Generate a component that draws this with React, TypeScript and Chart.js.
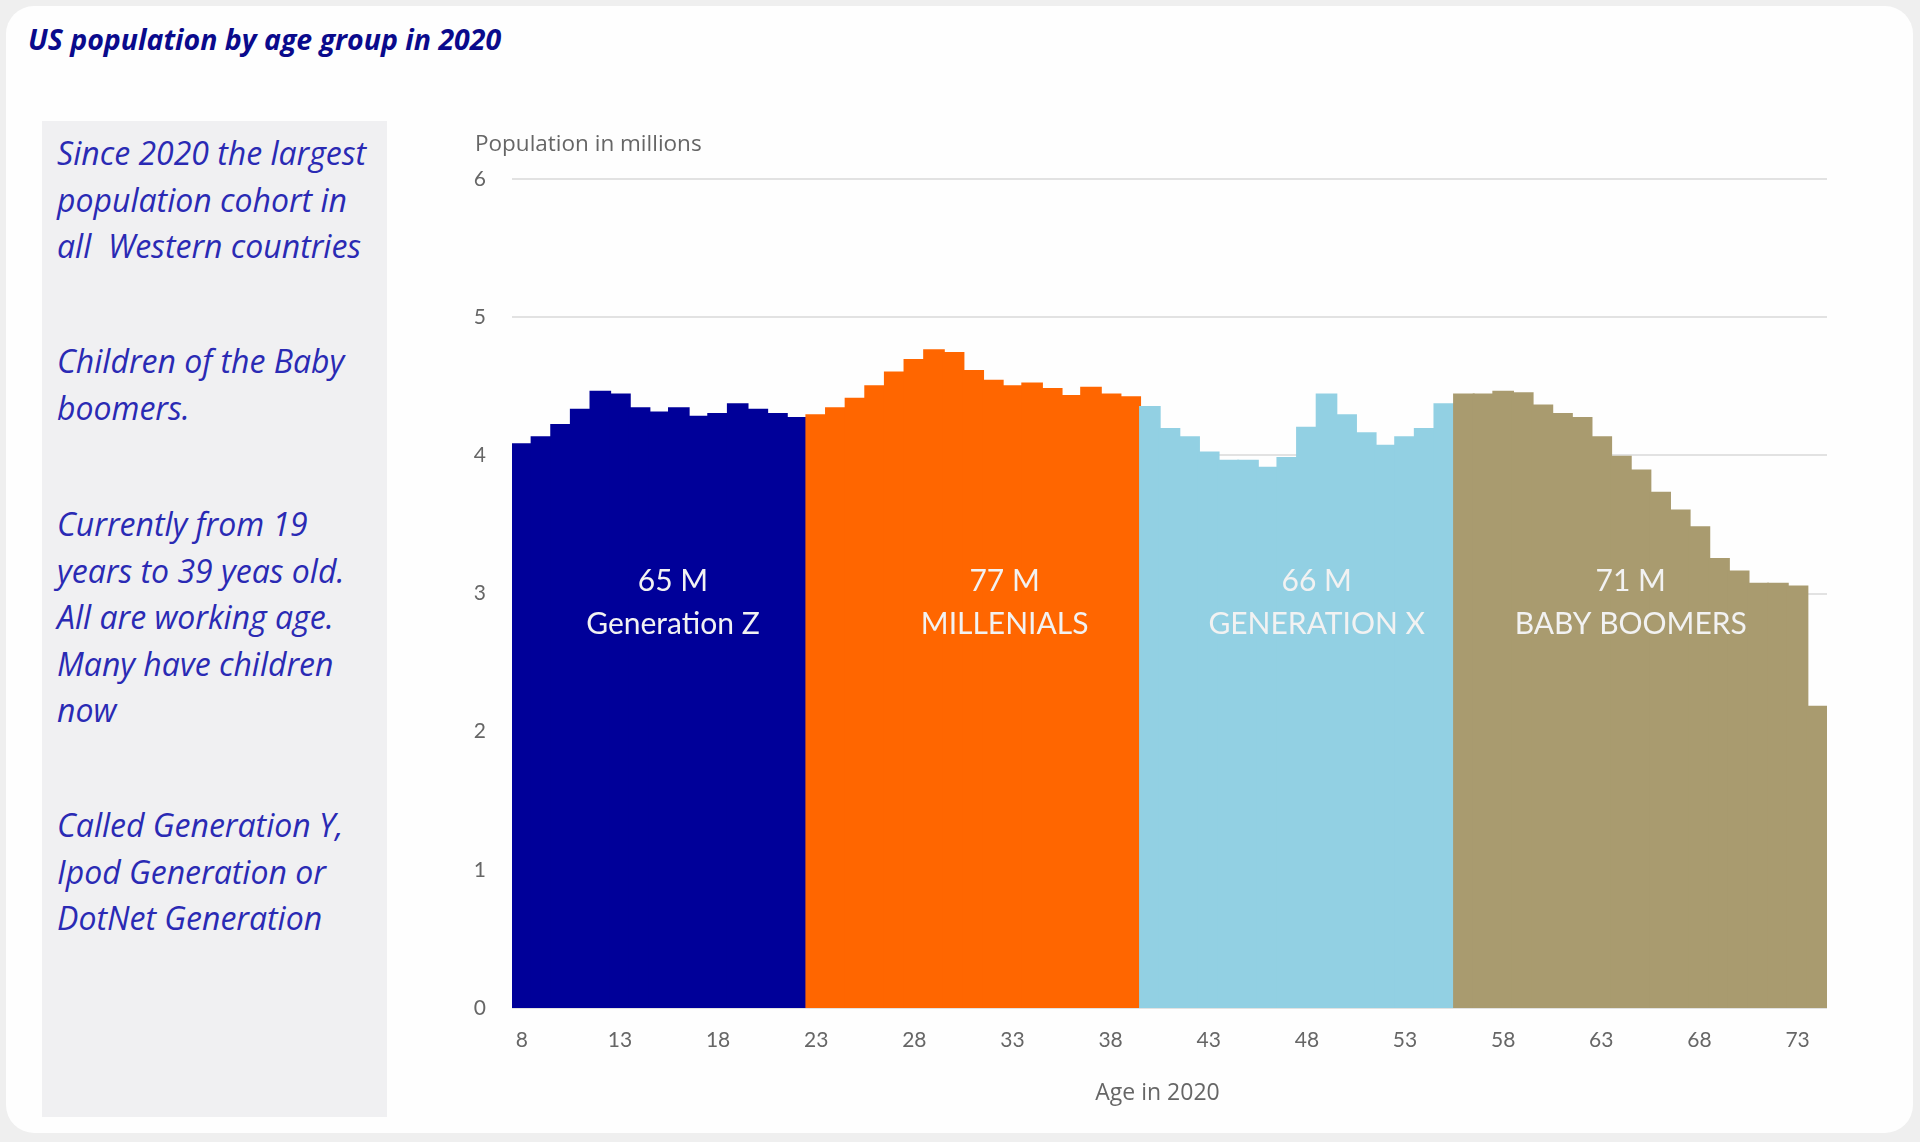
import React, { useEffect, useRef } from "react";
import { Chart, registerables } from "chart.js";
Chart.register(...registerables);

const ages = [8, 9, 10, 11, 12, 13, 14, 15, 16, 17, 18, 19, 20, 21, 22, 23, 24, 25, 26, 27, 28, 29, 30, 31, 32, 33, 34, 35, 36, 37, 38, 39, 40, 41, 42, 43, 44, 45, 46, 47, 48, 49, 50, 51, 52, 53, 54, 55, 56, 57, 58, 59, 60, 61, 62, 63, 64, 65, 66, 67, 68, 69, 70, 71, 72, 73, 74];

const genZValues = [4.08, 4.13, 4.22, 4.33, 4.46, 4.44, 4.34, 4.31, 4.34, 4.28, 4.3, 4.37, 4.33, 4.3, 4.27];
const millennialValues = [4.29, 4.34, 4.41, 4.5, 4.6, 4.69, 4.76, 4.74, 4.61, 4.54, 4.5, 4.52, 4.48, 4.43, 4.49, 4.44, 4.42];
const genXValues = [4.35, 4.19, 4.13, 4.02, 3.96, 3.96, 3.91, 3.98, 4.2, 4.44, 4.29, 4.16, 4.07, 4.13, 4.19, 4.37];
const boomerValues = [4.44, 4.44, 4.46, 4.45, 4.36, 4.3, 4.27, 4.13, 3.99, 3.89, 3.73, 3.6, 3.48, 3.25, 3.16, 3.07, 3.07, 3.05, 2.18];

const groupNames = ["Generation Z", "MILLENIALS", "GENERATION X", "BABY BOOMERS"];
const groupTotals = ["65 M", "77 M", "66 M", "71 M"];
const groupColors = ["#000099", "#ff6600", "#92d0e3", "#a99b6f"];
const groupLabelAges = [15.7, 32.6, 48.5, 64.5];
const labelLineValues = [3.09, 2.78];

const xTickLabels = [8, 13, 18, 23, 28, 33, 38, 43, 48, 53, 58, 63, 68, 73];
const yTickValues = [0, 1, 2, 3, 4, 5, 6];

const sideParagraphs = [
  ["Since 2020 the largest", "population cohort in", "all\u00a0 Western countries"],
  ["Children of the Baby", "boomers."],
  ["Currently from 19", "years to 39 yeas old.", "All are working age.", "Many have children", "now"],
  ["Called Generation Y,", "Ipod Generation or", "DotNet Generation"],
];
const sideParagraphTops = [130, 338, 501, 802];

export default function App() {
  const canvasRef = useRef<HTMLCanvasElement | null>(null);

  useEffect(() => {
    if (!canvasRef.current) return;
    const groups = [genZValues, millennialValues, genXValues, boomerValues];
    const data: number[] = [];
    const colors: string[] = [];
    groups.forEach((g, gi) => {
      g.forEach((v) => {
        data.push(v);
        colors.push(groupColors[gi]);
      });
    });

    const labelPlugin = {
      id: "genLabels",
      afterDatasetsDraw(chart: any) {
        const { ctx, scales, chartArea } = chart;
        const xs = scales.x;
        const ys = scales.y;
        ctx.save();
        ctx.fillStyle = "#f2f2f2";
        ctx.textAlign = "center";
        ctx.textBaseline = "middle";
        ctx.font = "30px Lato";
        groupNames.forEach((name, i) => {
          const idx = groupLabelAges[i] - ages[0];
          const x = xs.getPixelForValue(idx);
          ctx.fillText(groupTotals[i], x, ys.getPixelForValue(labelLineValues[0]));
          ctx.fillText(name, x, ys.getPixelForValue(labelLineValues[1]));
        });
        ctx.fillStyle = "#666666";
        ctx.font = "22.5px 'Open Sans'";
        ctx.textAlign = "left";
        ctx.fillText("Population in millions", chartArea.left - 37, chartArea.top - 34);
        ctx.textAlign = "center";
        ctx.font = "23px 'Open Sans'";
        ctx.fillText("Age in 2020", (chartArea.left + chartArea.right) / 2 - 12, chartArea.bottom + 85);
        ctx.restore();
      },
    };

    const chart = new Chart(canvasRef.current, {
      type: "bar",
      data: {
        labels: ages.map(String),
        datasets: [
          {
            data,
            backgroundColor: colors,
            borderWidth: 0,
            inflateAmount: 1,
            categoryPercentage: 1,
            barPercentage: 1,
          },
        ],
      },
      options: {
        animation: false,
        responsive: true,
        maintainAspectRatio: false,
        layout: { padding: { top: 59, right: 33, left: 0, bottom: 0 } },
        plugins: { legend: { display: false }, tooltip: { enabled: false }, title: { display: false } },
        scales: {
          x: {
            grid: { display: false, drawTicks: false },
            border: { display: false },
            ticks: {
              autoSkip: false,
              maxRotation: 0,
              minRotation: 0,
              padding: 20,
              color: "#666666",
              font: { family: "Lato", size: 21 },
              callback: (_v: any, i: number) => (xTickLabels.includes(ages[i]) ? String(ages[i]) : ""),
            },
            afterFit: (scale: any) => {
              scale.height = 112;
            },
          },
          y: {
            min: 0,
            max: 6,
            grid: { color: "#e2e2e2", lineWidth: 2, drawTicks: false },
            border: { display: false },
            afterBuildTicks: (scale: any) => {
              scale.ticks = yTickValues.map((v) => ({ value: v }));
            },
            ticks: {
              padding: 26,
              color: "#666666",
              font: { family: "Lato", size: 21 },
            },
            afterFit: (scale: any) => {
              scale.width = 72;
            },
          },
        },
      },
      plugins: [labelPlugin],
    });
    return () => chart.destroy();
  }, []);

  return (
    <div style={{ position: "absolute", left: 0, top: 0, width: 1920, height: 1142, background: "#efefef", overflow: "hidden" }}>
      <div style={{ position: "absolute", left: 6, top: 6, width: 1907, height: 1127, background: "#fefefe", borderRadius: 28 }} />
      <div
        style={{
          position: "absolute",
          left: 28,
          top: 21,
          lineHeight: "36px",
          fontFamily: "'Open Sans'",
          fontWeight: 700,
          fontStyle: "italic",
          fontSize: 28.5,
          color: "#0a0a8c",
          whiteSpace: "nowrap",
        }}
      >
        US population by age group in 2020
      </div>
      <div style={{ position: "absolute", left: 42, top: 121, width: 345, height: 996, background: "#f0f0f2" }} />
      {sideParagraphs.map((lines, pi) => (
        <div
          key={pi}
          style={{
            position: "absolute",
            left: 57,
            top: sideParagraphTops[pi],
            lineHeight: "46.5px",
            fontFamily: "'Open Sans'",
            fontStyle: "italic",
            fontSize: 32,
            color: "#2a2ab4",
            whiteSpace: "pre",
          }}
        >
          {lines.map((l, li) => (
            <div key={li}>{l}</div>
          ))}
        </div>
      ))}
      <div style={{ position: "absolute", left: 440, top: 120, width: 1420, height: 1000 }}>
        <canvas ref={canvasRef} />
      </div>
    </div>
  );
}
